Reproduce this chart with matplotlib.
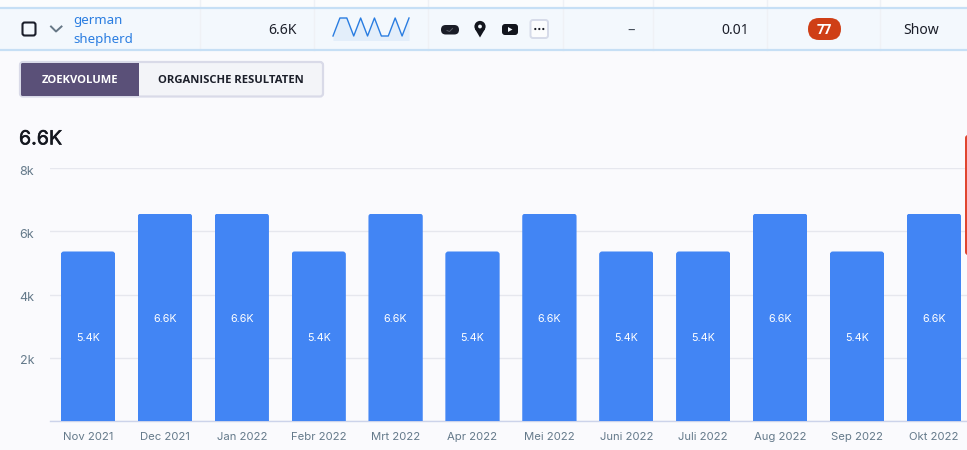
import matplotlib
matplotlib.use("Agg")
import matplotlib.pyplot as plt
import matplotlib.patheffects as pe
from matplotlib.patches import FancyBboxPatch, Rectangle, Circle, Polygon
from matplotlib.transforms import ScaledTranslation

months = ["Nov 2021", "Dec 2021", "Jan 2022", "Febr 2022", "Mrt 2022", "Apr 2022",
          "Mei 2022", "Juni 2022", "Juli 2022", "Aug 2022", "Sep 2022", "Okt 2022"]
volumes = [5360, 6560, 6560, 5360, 6560, 5360, 6560, 5360, 5360, 6560, 5360, 6560]
bar_labels = ["5.4K", "6.6K", "6.6K", "5.4K", "6.6K", "5.4K", "6.6K", "5.4K", "5.4K", "6.6K", "5.4K", "6.6K"]
y_ticks = [0, 2000, 4000, 6000, 8000]
y_tick_labels = ["", "2k", "4k", "6k", "8k"]
tab_labels = ["ZOEKVOLUME", "ORGANISCHE RESULTATEN"]
keyword_lines = ["german", "shepherd"]
headline = "6.6K"
row_volume = "6.6K"
row_cpc = "0.01"
row_kd = "77"
row_action = "Show"

W, H = 967, 450
FONT = "Inter"
UI = "Noto Sans"
BOLD = "Open Sans"
BG = "#fafafd"
px = 0.72  # points per pixel at dpi 100

fig = plt.figure(figsize=(W / 100, H / 100), dpi=100, facecolor=BG)


def axes_px(l, t, r, b, **kw):
    return fig.add_axes([l / W, 1 - b / H, (r - l) / W, (b - t) / H], **kw)


# Chart
ax = axes_px(50, 168, 967, 421, zorder=2)
ax.set_facecolor("none")
ax.set_xlim((50 - 88) / 76.9, (967 - 88) / 76.9)
ax.set_ylim(0, 8000)
positions = list(range(len(months)))
bars = ax.bar(positions, volumes, width=0.706, color="#4285f4", zorder=3)
x_scale = 76.9
y_scale = 8000 / 253
for bar in bars:
    clip = FancyBboxPatch((bar.get_x(), -1000), bar.get_width(), bar.get_height() + 1000,
                          boxstyle=f"round,pad=0,rounding_size={3 / x_scale}",
                          mutation_aspect=x_scale * y_scale, transform=ax.transData)
    bar.set_clip_path(clip)
for x, v, label in zip(positions, volumes, bar_labels):
    ax.annotate(label, (x, v / 2), xytext=(0, -1.0), textcoords="offset points", color="white",
                ha="center", va="center", fontsize=10.7 * px, family=FONT, zorder=4)
ax.set_yticks(y_ticks, y_tick_labels)
ax.set_xticks(positions, months)
ax.grid(axis="y", color="#e6e7ee", lw=1, zorder=0)
ax.set_axisbelow(True)
for s in ["top", "right", "left"]:
    ax.spines[s].set_visible(False)
ax.spines["bottom"].set_color("#ccd3ea")
ax.spines["bottom"].set_linewidth(1)
ax.tick_params(axis="both", length=0, labelcolor="#64798a", labelsize=11.3 * px)
ax.tick_params(axis="y", pad=11.5)
ax.tick_params(axis="x", pad=8.2)
for t in ax.get_xticklabels() + ax.get_yticklabels():
    t.set_family(FONT)
for t in ax.get_yticklabels():
    t.set_fontsize(12.5 * px)
    t.set_va("center_baseline")
    t.set_transform(t.get_transform() + ScaledTranslation(0, -1.5 / 72, fig.dpi_scale_trans))

# Page furniture, drawn in pixel coordinates
ov = axes_px(0, 0, W, H, zorder=1)
ov.set_xlim(0, W)
ov.set_ylim(H, 0)
ov.axis("off")

top = axes_px(0, 0, W, H, zorder=5)
top.set_xlim(0, W)
top.set_ylim(H, 0)
top.axis("off")
top.patch.set_alpha(0)


def rrect(a, x0, y0, x1, y1, r, fc, ec="none", lw=0, z=2):
    a.add_patch(FancyBboxPatch((x0, y0), x1 - x0, y1 - y0,
                               boxstyle=f"round,pad=0,rounding_size={r}",
                               fc=fc, ec=ec, lw=lw, zorder=z))


ov.add_patch(Rectangle((0, 8), W, 42, fc="#f3f8fd", ec="none", zorder=1))
ov.add_patch(Rectangle((0, 0), W, 8, fc="#fbfcfd", ec="none", zorder=1))
for x in [200, 314, 428, 563, 653, 767, 880]:
    ov.plot([x, x], [0, 50], color="#eff1f5", lw=1, zorder=1.5)
for y in [8, 50]:
    ov.plot([0, W], [y, y], color="#c6dff5", lw=1.6, zorder=2)

# Row contents
rrect(top, 22.5, 22.5, 35.5, 35.5, 2.2, "none", "#1b1f2b", 1.5)
top.plot([51, 56, 61.5], [26.5, 31.5, 26.5], color="#667786", lw=1.4)
top.text(73, 20.5, keyword_lines[0], color="#2a7de1", fontsize=13.3 * px, family=UI, ha="left", va="center")
top.text(73, 40, keyword_lines[1], color="#2a7de1", fontsize=13.3 * px, family=UI, ha="left", va="center")
top.text(297, 31, row_volume, color="#1c1f2a", fontsize=14 * px, family=UI, ha="right", va="center")
top.text(631, 31, "–", color="#3e4653", fontsize=15 * px, family=UI, ha="center", va="center")
top.text(749.5, 31, row_cpc, color="#1c1f2a", fontsize=14 * px, family=UI, ha="right", va="center")
top.text(921.5, 31, row_action, color="#1c1f2a", fontsize=14 * px, family=UI, ha="center", va="center")
rrect(top, 808, 18, 841, 40, 11, "#cf3f16")
top.text(824.5, 30, row_kd, color="white", fontsize=13.5 * px, family=BOLD, weight="bold", ha="center", va="center")

# Sparkline follows the monthly values
spark = axes_px(333, 17.5, 409, 40, zorder=4)
spark.set_xlim(0, 11)
spark.set_ylim(5360 - 1200 * 4 / 18, 6560 + 1200 * 0.5 / 18)
spark.axis("off")
spark.fill_between(positions, volumes, 0, color="#e3eefa", lw=0)
spark.plot(positions, volumes, color="#2a7de1", lw=1.0, clip_on=False)

# Feature icons
rrect(top, 441, 25, 459, 34.5, 4.7, "#1a1d27")
top.plot([447, 449.5, 452.5], [30.5, 31.5, 28.5], color="#5a5e68", lw=0.7)
top.add_patch(Circle((480, 26.5), 5.6, fc="#12151d", ec="none"))
top.add_patch(Polygon([(475, 29), (485, 29), (480, 37.5)], fc="#12151d", ec="none"))
top.add_patch(Circle((480, 26.5), 1.9, fc="#f3f8fd", ec="none", zorder=3))
rrect(top, 502, 24, 518, 35, 3, "#12151d")
top.add_patch(Polygon([(508, 27), (508, 32), (512.5, 29.5)], fc="#f3f8fd", ec="none", zorder=3))
rrect(top, 530.5, 20, 548, 38, 2.5, "#fbfcfd", "#d6dbe9", 1.4)
for x in [535.3, 539.3, 543.3]:
    top.add_patch(Circle((x, 29), 1.1, fc="#1a1d27", ec="none", zorder=3))

# Tabs
rrect(top, 20, 62, 323, 96.5, 3, "#f3f4f8", "#d9dae8", 1.6)
rrect(top, 21, 63, 139, 96, 1.5, "#5a5078", z=3)
top.add_patch(Rectangle((130, 63), 9, 33, fc="#5a5078", ec="none", zorder=3))
top.text(80, 80.5, tab_labels[0], color="white", fontsize=11.3 * px, family=BOLD, weight="bold",
         ha="center", va="center", zorder=4)
top.text(230.5, 80.5, tab_labels[1], color="#1c1f2a", fontsize=11.2 * px, family=BOLD, weight="bold",
         ha="center", va="center", zorder=4)

title = top.text(19, 139.5, headline, color="#14171f", fontsize=19.6 * px, family=FONT,
                 ha="left", va="center")
title.set_path_effects([pe.withStroke(linewidth=0.4, foreground="#14171f")])

# Clipped panel at the right edge
rrect(top, 965, 135, 975, 255, 3, "#e0452f")

fig.savefig("out.png", dpi=100, facecolor=BG)
